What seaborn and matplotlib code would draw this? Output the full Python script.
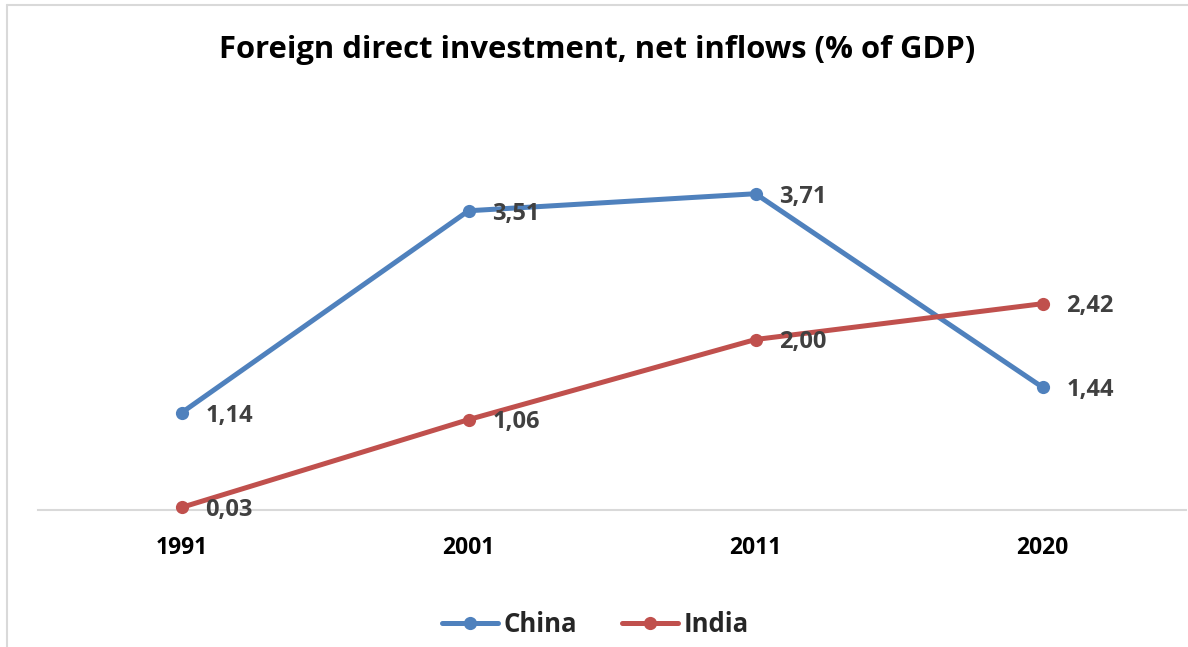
import matplotlib
matplotlib.use("Agg")
import matplotlib.pyplot as plt
from matplotlib.lines import Line2D
import seaborn as sns
import pandas as pd

years = ["1991", "2001", "2011", "2020"]
china = [1.14, 3.51, 3.71, 1.44]
india = [0.03, 1.06, 2.00, 2.42]
series_names = ["China", "India"]
colors = {"China": "#4F81BD", "India": "#C0504D"}
title = "Foreign direct investment, net inflows (% of GDP)"

df = pd.DataFrame({
    "year": years * 2,
    "value": china + india,
    "country": ["China"] * len(years) + ["India"] * len(years),
})

sns.set_theme(style="white")
plt.rcParams["font.family"] = ["Open Sans", "DejaVu Sans"]

W, H = 1188, 647
fig = plt.figure(figsize=(W / 100, H / 100), dpi=100)
ax = fig.add_axes([38 / W, (H - 510) / H, 1148 / W, (510 - 169) / H])

sns.lineplot(data=df, x="year", y="value", hue="country", palette=colors,
             marker="o", markersize=9.5, markeredgewidth=0, linewidth=3.6,
             sort=False, ax=ax, legend=False)
for ln in ax.lines:
    ln.set_clip_on(False)
    ln.set_solid_capstyle("round")

ax.set_xlim(-0.5, len(years) - 0.5)
ax.set_ylim(0, 4)
ax.set_xlabel("")
ax.set_ylabel("")
ax.set_yticks([])
for side in ["top", "right", "left"]:
    ax.spines[side].set_visible(False)
ax.spines["bottom"].set_color("#D9D9D9")
ax.spines["bottom"].set_linewidth(1.5)
ax.spines["bottom"].set_zorder(0)
ax.tick_params(axis="x", length=0, pad=19)
for lbl in ax.get_xticklabels():
    lbl.set_fontweight("bold")
    lbl.set_fontsize(16.5)
    lbl.set_color("black")

# value labels to the right of each point
for name, vals in zip(series_names, [china, india]):
    for i, v in enumerate(vals):
        ax.annotate(f"{v:.2f}".replace(".", ","), (i, v), xytext=(17, -2),
                    textcoords="offset points", ha="left", va="center",
                    fontsize=17, fontweight="bold", color="#404040")

fig.text(597 / W, 1 - 50 / H, title, ha="center", va="center",
         fontsize=22.3, fontweight="bold", color="black")

handles = [Line2D([0], [0], color=colors[n], lw=3.6, marker="o", markersize=9.5,
                  markeredgewidth=0, solid_capstyle="round") for n in series_names]
leg = fig.legend(handles, series_names, loc="center", bbox_to_anchor=(595 / W, 1 - 624 / H),
                 ncol=2, frameon=False, handlelength=2.2, columnspacing=1.75,
                 handletextpad=0.2, prop={"weight": "bold", "size": 18.5})

# chart frame
fig.add_artist(Line2D([7 / W, 7 / W], [0, 1 - 5 / H], color="#D9D9D9", lw=1.5))
fig.add_artist(Line2D([7 / W, 1], [1 - 5 / H, 1 - 5 / H], color="#D9D9D9", lw=1.5))

fig.savefig("out.png", dpi=100, facecolor="white")
